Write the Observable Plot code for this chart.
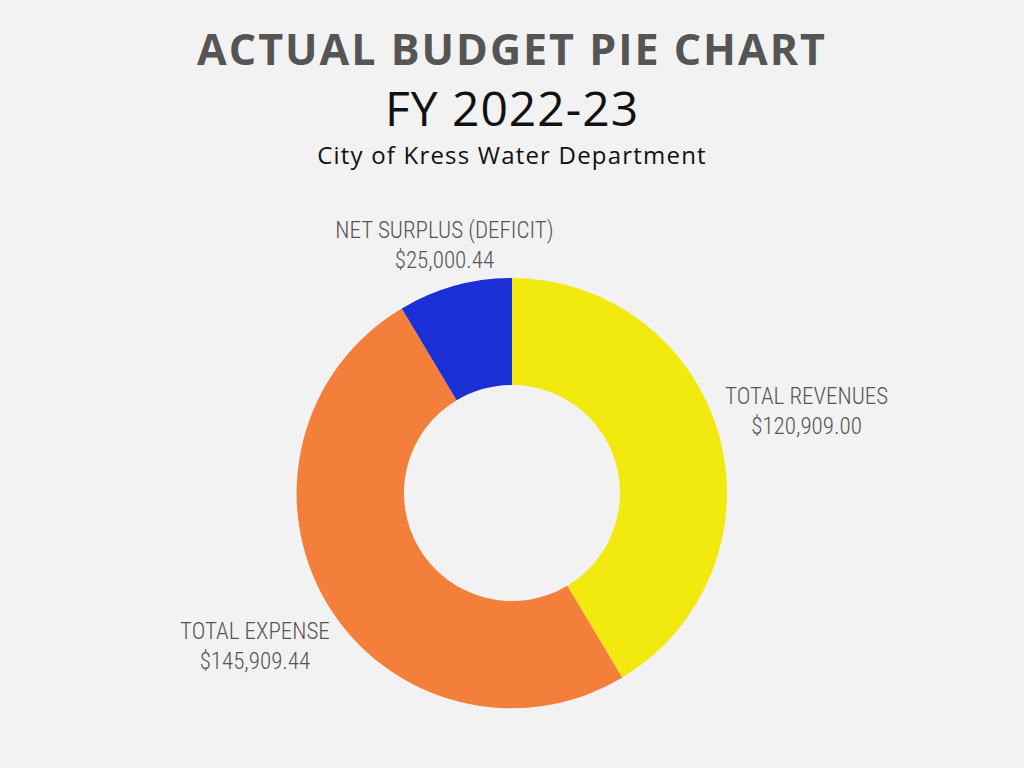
<!DOCTYPE html>
<html>
<head>
<meta charset="utf-8">
<script src="https://cdn.jsdelivr.net/npm/d3@7"></script>
<script src="https://cdn.jsdelivr.net/npm/@observablehq/plot@0.6"></script>
<style>
  html, body { margin: 0; padding: 0; background: #f2f2f2; width: 1024px; height: 768px; overflow: hidden; }
  #header { height: 190px; text-align: center; position: relative; }
  #t1 { position: absolute; left: 0; right: 0; top: 27px; font-family: "Open Sans", sans-serif; font-weight: 700; font-size: 43px; letter-spacing: 2px; color: #555555; line-height: 1; }
  #t2 { position: absolute; left: 0; right: 0; top: 84px; font-family: "Open Sans", sans-serif; font-weight: 400; font-size: 48px; letter-spacing: 1px; color: #111111; line-height: 1; }
  #t3 { position: absolute; left: 0; right: 0; top: 143px; font-family: "Open Sans", sans-serif; font-weight: 400; font-size: 24px; letter-spacing: 1.2px; color: #111111; line-height: 1; }
  #chart svg { display: block; }
</style>
</head>
<body>
<div id="header">
  <div id="t1">ACTUAL BUDGET PIE CHART</div>
  <div id="t2">FY 2022-23</div>
  <div id="t3">City of Kress Water Department</div>
</div>
<div id="chart"></div>
<script>
const categories = ["TOTAL REVENUES", "TOTAL EXPENSE", "NET SURPLUS (DEFICIT)"];
const values = [120909.00, 145909.44, 25000.44];
const valueLabels = ["$120,909.00", "$145,909.44", "$25,000.44"];
const colors = ["#f2ea0f", "#f47f3a", "#1a2fd6"];

const W = 1024, H = 578;
const cy = 303;              // center (svg px)
const outerR = 215, innerR = 108;
const labelR = {"TOTAL REVENUES": 305, "TOTAL EXPENSE": 300, "NET SURPLUS (DEFICIT)": 256};

const data = categories.map((c, i) => ({name: c, value: values[i], label: valueLabels[i]}));
const arcs = d3.pie().sort(null).value(d => d.value)(data);
arcs.forEach(a => {
  const mid = (a.startAngle + a.endAngle) / 2;
  const r = labelR[a.data.name];
  a.name = a.data.name;
  a.lx = r * Math.sin(mid);
  a.ly = -r * Math.cos(mid);
});

const arcGen = d3.arc().innerRadius(innerR).outerRadius(outerR);

const plot = Plot.plot({
  width: W,
  height: H,
  margin: 0,
  style: {background: "transparent", overflow: "visible"},
  x: {domain: [-W / 2, W / 2], range: [0, W], axis: null},
  y: {domain: [-cy, H - cy], range: [0, H], axis: null},
  color: {domain: categories, range: colors},
  marks: [
    Plot.dot(arcs, {
      x: () => 0, y: () => 0, fill: "name",
      render(index, scales, vals, dims, context) {
        const g = d3.create("svg:g");
        const cx0 = scales.x(0), cy0 = scales.y(0);
        for (const i of index) {
          g.append("path")
            .attr("transform", `translate(${cx0},${cy0})`)
            .attr("d", arcGen(arcs[i]))
            .attr("fill", vals.fill[i]);
        }
        return g.node();
      }
    }),
    Plot.text(arcs, {
      x: "lx", y: "ly",
      text: d => d.name + "\n" + d.data.label,
      lineHeight: 1.3,
      fontSize: 23,
      fontWeight: 300,
      dy: -3,
      fill: "#555555",
      fontFamily: "'Roboto Condensed', 'Liberation Sans Narrow', Roboto, sans-serif",
      textAnchor: "middle"
    })
  ]
});
document.getElementById("chart").appendChild(plot);
</script>
</body>
</html>
